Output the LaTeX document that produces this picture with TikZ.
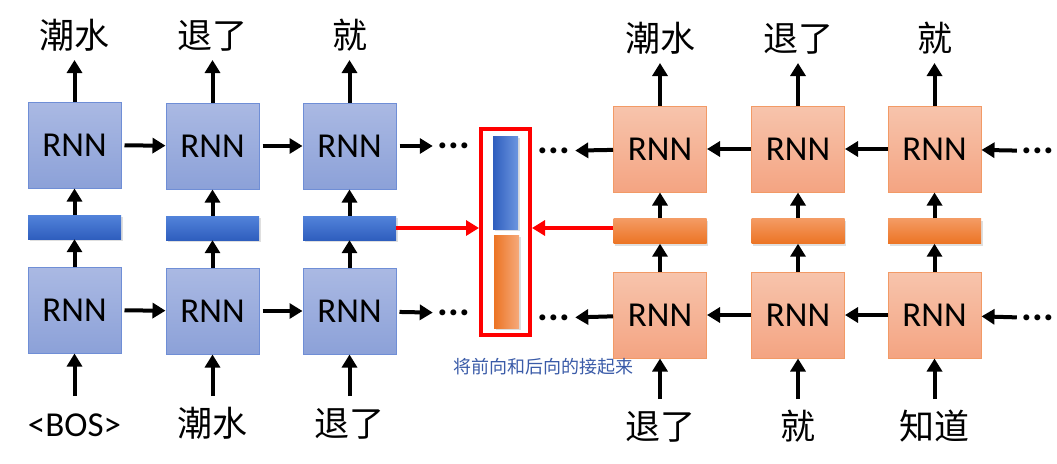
\documentclass[tikz,border=0pt]{standalone}
\usepackage{fontspec}
\setmainfont{Carlito}
\newfontfamily\cjk{Noto Sans CJK SC}
\usetikzlibrary{arrows.meta,shadows}
\definecolor{fwdtop}{HTML}{AAB9E3}
\definecolor{fwdbot}{HTML}{8CA1D8}
\definecolor{fwdline}{HTML}{6F8ED6}
\definecolor{fwdbartop}{HTML}{5283DA}
\definecolor{fwdbarbot}{HTML}{2F5EBE}
\definecolor{bwdtop}{HTML}{F7C4AC}
\definecolor{bwdbot}{HTML}{F4A482}
\definecolor{bwdline}{HTML}{F29A66}
\definecolor{bwdbartop}{HTML}{F49B64}
\definecolor{bwdbarbot}{HTML}{EC7424}
\definecolor{notecol}{HTML}{3A5BA8}
\begin{document}
\begin{tikzpicture}[x=1pt,y=-1pt,
    fwd node/.style={draw=fwdline,line width=1pt,top color=fwdtop,bottom color=fwdbot,minimum width=93pt,minimum height=86pt,inner sep=0pt,font=\fontsize{35}{40}\selectfont},
    bwd node/.style={fwd node,draw=bwdline,top color=bwdtop,bottom color=bwdbot},
    fwd bar/.style={minimum width=93pt,minimum height=24pt,inner sep=0pt,top color=fwdbartop,bottom color=fwdbarbot,drop shadow={opacity=0.25,shadow xshift=1.5pt,shadow yshift=-2pt}},
    bwd bar/.style={fwd bar,minimum height=25pt,top color=bwdbartop,bottom color=bwdbarbot},
    word up/.style={font=\cjk\fontsize{35}{40}\selectfont,inner sep=0pt,text depth=11pt,anchor=south},
    word down/.style={font=\cjk\fontsize{35}{40}\selectfont,inner sep=0pt,text height=40pt,anchor=north},
    dots/.style={font=\bfseries\fontsize{40}{44}\selectfont,inner ysep=0pt,inner xsep=5pt,text height=5.5pt,text depth=0pt},
    arr/.style={line width=4pt,-{Triangle[length=13pt,width=15pt]}},
    red arr/.style={red,line width=3.8pt,-{Triangle[length=13pt,width=15pt]}}]
    \useasboundingbox (0,0) rectangle (1057,463);

    % forward direction
    \node[fwd node] at (74.5, 145) (f1u) {RNN};
    \node[fwd node] at (212.5, 146) (f2u) {RNN};
    \node[fwd node] at (349.5, 146) (f3u) {RNN};
    \node[fwd bar] at (74.5, 227) (f1b) {};
    \node[fwd bar] at (212.5, 228) (f2b) {};
    \node[fwd bar] at (349.5, 228) (f3b) {};
    \node[fwd node] at (74.5, 310) (f1l) {RNN};
    \node[fwd node] at (212.5, 311) (f2l) {RNN};
    \node[fwd node] at (349.5, 311) (f3l) {RNN};
    \node[dots] at (454, 146) (fdu) {...};
    \node[dots] at (454, 313) (fdl) {...};

    \node[word up] at (74.5, 60) (fo1) {潮水};
    \node[word up] at (212.5, 60) (fo2) {退了};
    \node[word up] at (349.5, 60) (fo3) {就};
    \node[word down] at (74.5, 396) (fi1) {\rmfamily\fontsize{35}{40}\selectfont <BOS>};
    \node[word down] at (212.5, 396) (fi2) {潮水};
    \node[word down] at (349.5, 396) (fi3) {退了};

    % backward direction
    \node[bwd node] at (660, 149) (b1u) {RNN};
    \node[bwd node] at (798, 149) (b2u) {RNN};
    \node[bwd node] at (934.5, 149) (b3u) {RNN};
    \node[bwd bar] at (660, 231) (b1b) {};
    \node[bwd bar] at (798, 231) (b2b) {};
    \node[bwd bar] at (934.5, 231) (b3b) {};
    \node[bwd node] at (660, 315) (b1l) {RNN};
    \node[bwd node] at (798, 315) (b2l) {RNN};
    \node[bwd node] at (934.5, 315) (b3l) {RNN};
    \node[dots] at (554, 151) (bdu) {...};
    \node[dots] at (554, 318) (bdl) {...};
    \node[dots] at (1038, 151) (edu) {...};
    \node[dots] at (1038, 318) (edl) {...};

    \node[word up] at (660, 63) (bo1) {潮水};
    \node[word up] at (798, 63) (bo2) {退了};
    \node[word up] at (934.5, 63) (bo3) {就};
    \node[word down] at (660, 399) (bi1) {退了};
    \node[word down] at (798, 399) (bi2) {就};
    \node[word down] at (934.5, 399) (bi3) {知道};

    % concatenation
    \node[draw=red,line width=4pt,minimum width=49pt,minimum height=206pt,inner sep=0pt] at (505.5, 232) (cat) {};
    \node[minimum width=25pt,minimum height=93pt,inner sep=0pt,left color=fwdbarbot,right color=fwdbartop!85!white,drop shadow={opacity=0.25,shadow xshift=1.5pt,shadow yshift=-2pt}] at (505.5, 182.5) (catf) {};
    \node[minimum width=25pt,minimum height=93pt,inner sep=0pt,left color=bwdbarbot,right color=bwdbartop!85!white,drop shadow={opacity=0.25,shadow xshift=1.5pt,shadow yshift=-2pt}] at (506.5, 281.5) (catb) {};
    \node[font=\cjk\fontsize{18}{20}\selectfont,text=notecol] at (543, 367) (note) {将前向和后向的接起来};

    \path[arr]
        (f1u) edge[shorten <=3pt] (f2u)
        (f2u) edge[shorten <=3pt] (f3u)
        (f3u) edge[shorten <=3pt] (fdu)
        (f1l) edge[shorten <=3pt] (f2l)
        (f2l) edge[shorten <=3pt] (f3l)
        (f3l) edge[shorten <=3pt] (fdl)
        (f1l) edge (f1b) (f1b) edge (f1u) (f1u) edge (fo1) (fi1) edge (f1l)
        (f2l) edge (f2b) (f2b) edge (f2u) (f2u) edge (fo2) (fi2) edge (f2l)
        (f3l) edge (f3b) (f3b) edge (f3u) (f3u) edge (fo3) (fi3) edge (f3l)
        (edu) edge (b3u) (b3u) edge (b2u) (b2u) edge (b1u) (b1u) edge (bdu)
        (edl) edge (b3l) (b3l) edge (b2l) (b2l) edge (b1l) (b1l) edge (bdl)
        (b1l) edge (b1b) (b1b) edge (b1u) (b1u) edge (bo1) (bi1) edge (b1l)
        (b2l) edge (b2b) (b2b) edge (b2u) (b2u) edge (bo2) (bi2) edge (b2l)
        (b3l) edge (b3b) (b3b) edge (b3u) (b3u) edge (bo3) (bi3) edge (b3l)
        ;
    \draw[red arr] (f3b) -- (f3b -| cat.west);
    \draw[red arr] (f3b -| b1b.west) -- (f3b -| cat.east);
\end{tikzpicture}
\end{document}
